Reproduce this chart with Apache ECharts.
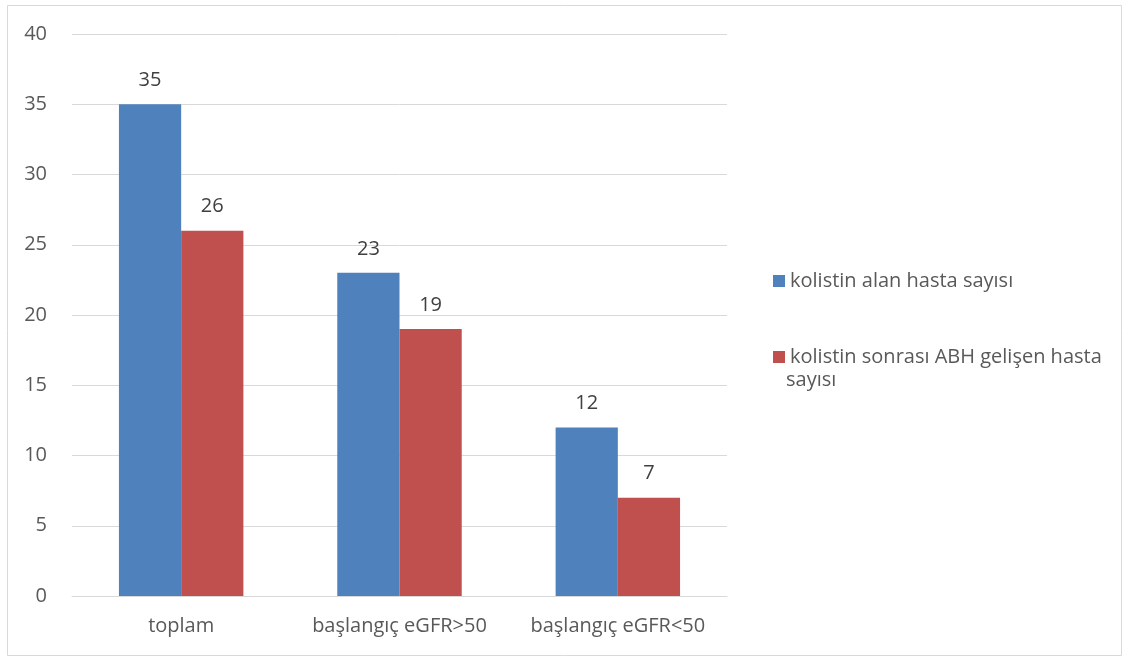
<!DOCTYPE html>
<html>
<head>
<meta charset="utf-8">
<script src="https://cdn.jsdelivr.net/npm/echarts@6/dist/echarts.min.js"></script>
<style>
html, body { margin: 0; padding: 0; background: #fff; }
#chart { width: 1129px; height: 657px; }
</style>
</head>
<body>
<div id="chart"></div>
<script>
var categories = ['toplam', 'başlangıç eGFR>50', 'başlangıç eGFR<50'];
var seriesNames = ['kolistin alan hasta sayısı', 'kolistin sonrası ABH gelişen hasta sayısı'];
var alanValues = [35, 23, 12];
var abhValues = [26, 19, 7];

var fontFam = '"Open Sans", Lato, sans-serif';
var fontSz = 20;
var chart = echarts.init(document.getElementById('chart'));

var option = {
    backgroundColor: '#fff',
    animation: false,
    color: ['#4F81BD', '#C0504D'],
    grid: {
        left: 72,
        right: 402,
        top: 34,
        bottom: 61
    },
    legend: {
        orient: 'vertical',
        left: 768,
        top: 262,
        itemWidth: 12,
        itemHeight: 12,
        itemGap: 48,
        icon: 'rect',
        data: seriesNames,
        formatter: function (name) {
            // second line of the long name drawn separately below
            if (name === seriesNames[1]) return 'kolistin sonrası ABH gelişen hasta';
            return name;
        },
        textStyle: {
            color: '#595959',
            fontSize: fontSz,
            lineHeight: 28,
            fontFamily: fontFam
        }
    },
    graphic: [
        {
            type: 'rect',
            shape: { x: 7.5, y: 5.5, width: 1114, height: 650 },
            style: { fill: 'none', stroke: '#d9d9d9', lineWidth: 1 },
            silent: true
        },
        {
            type: 'text',
            left: 786,
            top: 370,
            style: {
                text: 'sayısı',
                fill: '#595959',
                fontSize: fontSz,
                fontFamily: fontFam
            }
        }
    ],
    xAxis: {
        type: 'category',
        data: categories,
        axisTick: { show: false },
        axisLine: { lineStyle: { color: '#d9d9d9', width: 1 } },
        axisLabel: {
            interval: 0,
            color: '#595959',
            fontSize: fontSz,
            margin: 20,
            fontFamily: fontFam
        }
    },
    yAxis: {
        type: 'value',
        min: 0,
        max: 40,
        interval: 5,
        axisLine: { show: false },
        axisTick: { show: false },
        splitLine: { lineStyle: { color: '#d9d9d9', width: 1 } },
        axisLabel: {
            color: '#595959',
            fontSize: fontSz,
            margin: 25,
            fontFamily: fontFam
        }
    },
    series: [
        {
            name: seriesNames[0],
            type: 'bar',
            data: alanValues,
            barGap: '0%',
            barCategoryGap: '43%',
            label: {
                show: true,
                position: 'top',
                distance: 14,
                color: '#404040',
                fontSize: fontSz,
                fontFamily: fontFam
            }
        },
        {
            name: seriesNames[1],
            type: 'bar',
            data: abhValues,
            label: {
                show: true,
                position: 'top',
                distance: 14,
                color: '#404040',
                fontSize: fontSz,
                fontFamily: fontFam
            }
        }
    ]
};

chart.setOption(option);
</script>
</body>
</html>
